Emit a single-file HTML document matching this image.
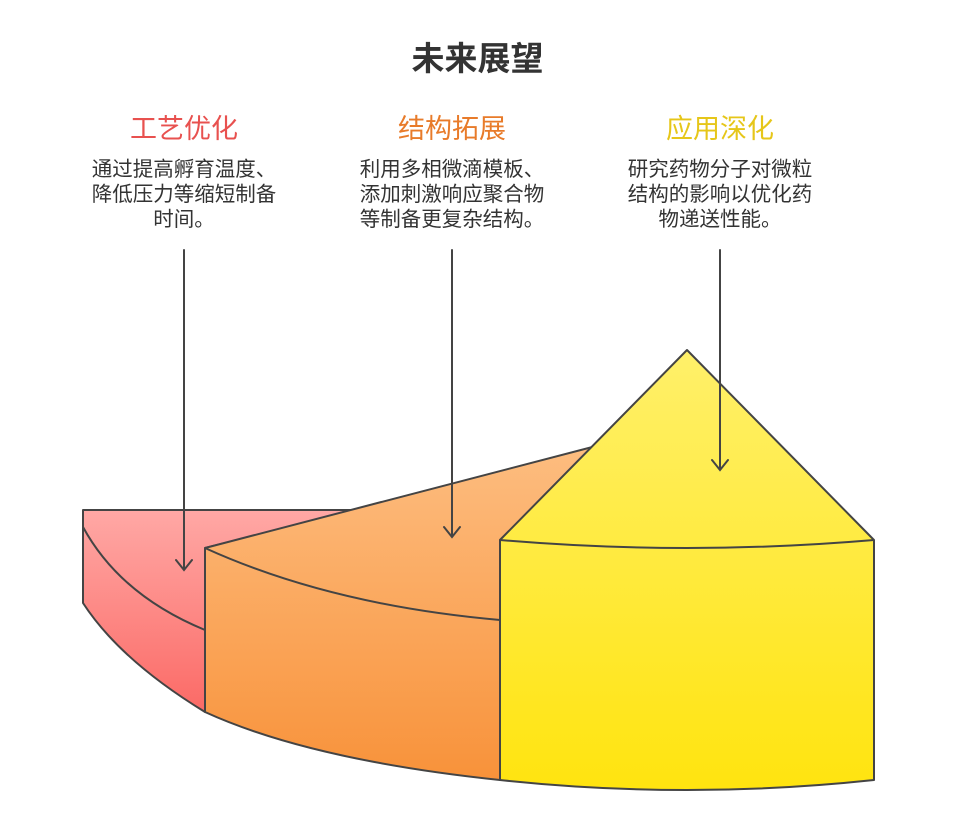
<!DOCTYPE html>
<html><head><meta charset="utf-8"><style>
body{margin:0;width:955px;height:839px;background:#fff;overflow:hidden;font-family:"Liberation Sans","Noto Sans CJK SC",sans-serif}
.t{position:absolute;text-align:center;white-space:nowrap}
</style></head><body>
<svg width="955" height="839" style="position:absolute;left:0;top:0">
<defs>
<linearGradient id="r" x1="0" y1="0" x2="0" y2="1"><stop offset="0" stop-color="#ffa8a5"/><stop offset="1" stop-color="#fb6a66"/></linearGradient>
<linearGradient id="o" x1="0" y1="0" x2="0" y2="1"><stop offset="0" stop-color="#fdbd80"/><stop offset="1" stop-color="#f8923a"/></linearGradient>
<linearGradient id="y" x1="0" y1="0" x2="0" y2="1"><stop offset="0" stop-color="#fff06a"/><stop offset="1" stop-color="#ffe40f"/></linearGradient>
</defs>
<g stroke="#444" stroke-width="2" stroke-linejoin="round">
<path d="M83,510 L360,510 L205,548 L205,712 Q120,660 83,603 Z" fill="url(#r)"/>
<path d="M83,527 Q120,595 205,630" fill="none"/>
<path d="M205,548 L600,445 L500,540 L500,780 Q310,760 205,712 Z" fill="url(#o)"/>
<path d="M205,548 Q330,605 500,620" fill="none"/>
<path d="M687,350 L874,540 L874,780 Q687,800 500,780 L500,540 Z" fill="url(#y)"/>
<path d="M500,540 Q687,556 874,540" fill="none"/>
</g>
<g stroke="#444" stroke-width="2" fill="none" stroke-linecap="round">
<path d="M184,250 V570 M176,560 L184,570 L192,560"/>
<path d="M452,250 V537 M444,527 L452,537 L460,527"/>
<path d="M720,250 V470 M712,460 L720,470 L728,460"/>
</g>
</svg>
<div class="t" style="left:0;width:955px;top:32px;font-size:33px;font-weight:bold;color:#333">未来展望</div>
<div class="t" style="left:84px;width:200px;top:107px;font-size:27px;color:#e8514f">工艺优化</div>
<div class="t" style="left:352px;width:200px;top:107px;font-size:27px;color:#e87b2a">结构拓展</div>
<div class="t" style="left:620px;width:200px;top:107px;font-size:27px;color:#e6c619">应用深化</div>
<div class="t" style="left:74px;width:220px;top:157px;font-size:20.5px;line-height:25px;color:#333">通过提高孵育温度、<br>降低压力等缩短制备<br>时间。</div>
<div class="t" style="left:342px;width:220px;top:157px;font-size:20.5px;line-height:25px;color:#333">利用多相微滴模板、<br>添加刺激响应聚合物<br>等制备更复杂结构。</div>
<div class="t" style="left:610px;width:220px;top:157px;font-size:20.5px;line-height:25px;color:#333">研究药物分子对微粒<br>结构的影响以优化药<br>物递送性能。</div>
</body></html>
